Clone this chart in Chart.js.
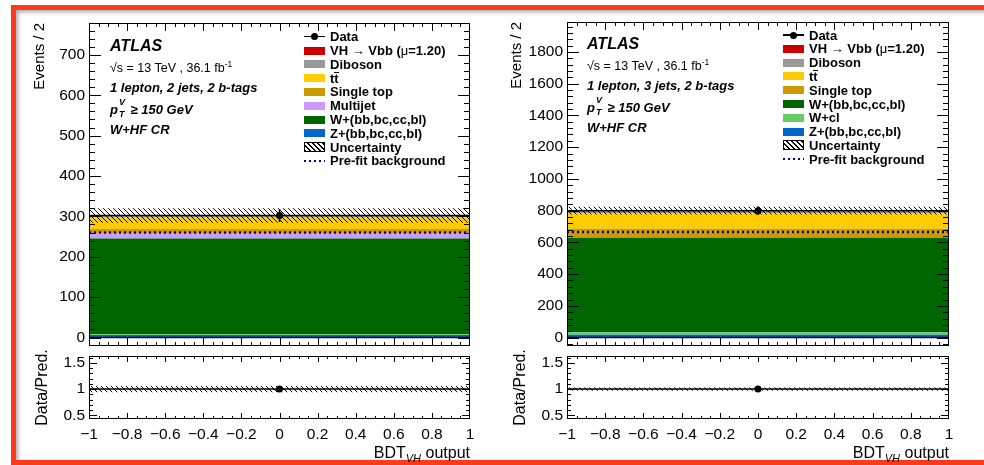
<!DOCTYPE html>
<html>
<head>
<meta charset="utf-8">
<script src="https://cdn.jsdelivr.net/npm/chart.js@4.4.1/dist/chart.umd.min.js"></script>
<style>
html,body{margin:0;padding:0;background:#fff;}
body{width:984px;height:465px;position:relative;overflow:hidden;font-family:'Liberation Sans',Arial,Helvetica,sans-serif;color:#000;}
#frame{position:absolute;left:11px;top:5px;width:1000px;height:450px;border:5px solid #f93a1c;box-shadow:inset 2px 2px 4px rgba(0,0,0,0.35);}
canvas{position:absolute;}
.txt{position:absolute;white-space:nowrap;line-height:1;}
.atl{font-size:16px;font-weight:bold;font-style:italic;}
.sq{font-size:12.5px;}
.sup1{font-size:8.5px;position:relative;top:-5px;}
.bi{font-size:13px;font-weight:bold;font-style:italic;}
.ss{display:inline-block;position:relative;width:9px;height:13px;vertical-align:top;}
.ss .sp{position:absolute;left:1px;top:-5px;font-size:9px;}
.ss .sb{position:absolute;left:1px;top:7px;font-size:9px;}
.leg{position:absolute;white-space:nowrap;font-size:13px;font-weight:bold;line-height:13px;}
.nb{font-weight:normal;}
.ol{position:relative;display:inline-block;}
.ol i{position:absolute;left:0;right:0;top:0;border-top:1.3px solid #000;}
.xt{font-size:16px;}
.xt sub{font-size:11px;font-style:italic;vertical-align:baseline;position:relative;top:4px;}
</style>
</head>
<body>
<div id="frame"></div>
<canvas id="lmain" width="492" height="350" style="left:0;top:0"></canvas>
<canvas id="lratio" width="492" height="115" style="left:0;top:350px"></canvas>
<canvas id="rmain" width="492" height="350" style="left:492px;top:0"></canvas>
<canvas id="rratio" width="492" height="115" style="left:492px;top:350px"></canvas>
<div id="overlay"></div>
<script>
// ---------------- DATA ----------------
const binEdges = [-1, 1];
const xTickValues = [-1, -0.8, -0.6, -0.4, -0.2, 0, 0.2, 0.4, 0.6, 0.8, 1];
const ratioTickValues = [0.5, 1, 1.5];
const leftYTickValues = [0, 100, 200, 300, 400, 500, 600, 700];
const rightYTickValues = [0, 200, 400, 600, 800, 1000, 1200, 1400, 1600, 1800];

// Left: 1 lepton, 2 jets, 2 b-tags (stack order bottom -> top)
const left_ZHF = [6];
const left_Wcl = [2];
const left_WHF = [237];
const left_Multijet = [14];
const left_SingleTop = [10];
const left_ttbar = [28];
const left_Diboson = [4];
const left_VH = [1];
const left_Data = [302];
const left_DataErr = [16];
const left_Unc = [18];
const left_Prefit = [260];

// Right: 1 lepton, 3 jets, 2 b-tags
const right_ZHF = [18];
const right_Wcl = [15];
const right_WHF = [597];
const right_SingleTop = [56];
const right_ttbar = [97];
const right_Diboson = [14];
const right_VH = [3];
const right_Data = [800];
const right_DataErr = [27];
const right_Unc = [25];
const right_Prefit = [665];

// ---------------- STYLE ----------------
const FONT = "'Liberation Sans', Arial, Helvetica, sans-serif";
const COLORS = {VH:'#cc0000', Diboson:'#999999', ttbar:'#ffcc00', SingleTop:'#cc9900',
  Multijet:'#cc99ff', WHF:'#006600', Wcl:'#66cc66', ZHF:'#0066cc'};
Chart.defaults.font.family = FONT;
Chart.defaults.color = '#000';

function makeHatch(){
  const c = document.createElement('canvas'); c.width = 5; c.height = 5;
  const g = c.getContext('2d');
  g.strokeStyle = '#000'; g.lineWidth = 1;
  g.beginPath(); g.moveTo(-1,-1); g.lineTo(6,6);
  g.moveTo(-1,4); g.lineTo(1,6);
  g.moveTo(4,-1); g.lineTo(6,1); g.stroke();
  return g.createPattern(c, 'repeat');
}
const hatch = makeHatch();

const centers = binEdges.slice(0,-1).map((e,b)=>(e+binEdges[b+1])/2);
const halfW = binEdges.slice(0,-1).map((e,b)=>(binEdges[b+1]-e)/2);
function stepPoints(vals){
  const pts = [];
  vals.forEach((v,b)=>{ pts.push({x:binEdges[b], y:v}); pts.push({x:binEdges[b+1], y:v}); });
  return pts;
}
function fmtX(v){ const r = Math.round(v*10)/10; return r < 0 ? '\u2212' + String(-r) : String(r); }

// ---------------- PLUGIN: ROOT style frame, ticks, error bars ----------------
function drawTicks(ctx, scale, cfg, area, horizontal){
  const {majors, div, major, minor} = cfg;
  const step = (majors[1]-majors[0])/div;
  const k0 = Math.ceil((scale.min - majors[0])/step - 1e-6);
  const k1 = Math.floor((scale.max - majors[0])/step + 1e-6);
  ctx.beginPath();
  for (let k=k0; k<=k1; k++){
    const v = majors[0] + k*step;
    const len = (((k%div)+div)%div===0) ? major : minor;
    const p = scale.getPixelForValue(v);
    if (horizontal){
      if (p <= area.left+1 || p >= area.right-1) continue;
      const x = Math.round(p)+0.5;
      ctx.moveTo(x, area.bottom); ctx.lineTo(x, area.bottom-len);
      ctx.moveTo(x, area.top); ctx.lineTo(x, area.top+len);
    } else {
      if (p <= area.top+1 || p >= area.bottom-1) continue;
      const y = Math.round(p)+0.5;
      ctx.moveTo(area.left, y); ctx.lineTo(area.left+len, y);
      ctx.moveTo(area.right, y); ctx.lineTo(area.right-len, y);
    }
  }
  ctx.stroke();
}
Chart.register({
  id:'rootFrame',
  afterDatasetsDraw(chart, args, opts){
    const {ctx, chartArea:a, scales} = chart;
    ctx.save();
    ctx.strokeStyle = '#000';
    ctx.lineWidth = 1.5;
    chart.data.datasets.forEach((ds,i)=>{
      if (!ds.errY) return;
      ds.data.forEach((d,j)=>{
        const px = scales.x.getPixelForValue(d.x), py = scales.y.getPixelForValue(d.y);
        ctx.beginPath();
        ctx.moveTo(px, scales.y.getPixelForValue(d.y - ds.errY[j]));
        ctx.lineTo(px, scales.y.getPixelForValue(d.y + ds.errY[j]));
        ctx.moveTo(scales.x.getPixelForValue(d.x - ds.errX[j]), py);
        ctx.lineTo(scales.x.getPixelForValue(d.x + ds.errX[j]), py);
        ctx.stroke();
      });
    });
    if (opts.zeroLine){
      const y0 = scales.y.getPixelForValue(0);
      ctx.lineWidth = 1.5;
      ctx.beginPath(); ctx.moveTo(a.left, y0); ctx.lineTo(a.right, y0); ctx.stroke();
    }
    ctx.lineWidth = 1;
    ctx.strokeRect(Math.round(a.left)+0.5, Math.round(a.top)+0.5, Math.round(a.width)-1, Math.round(a.height)-1);
    drawTicks(ctx, scales.x, opts.x, a, true);
    drawTicks(ctx, scales.y, opts.y, a, false);
    ctx.restore();
  }
});

function baseY(min, max, ticks, width, title, titleSize, titlePad, fmt){
  return {
    type:'linear', min, max,
    afterBuildTicks: s => { s.ticks = ticks.map(v=>({value:v})); },
    afterFit: s => { s.width = width; s.paddingTop = 0; s.paddingBottom = 0; },
    ticks:{font:{size:15.5}, color:'#000', padding:4, callback: fmt},
    grid:{display:false, drawTicks:false}, border:{display:false},
    title:{display:true, text:title, align: title === 'Events / 2' ? 'end' : 'center',
      font:{size:titleSize}, color:'#000', padding:{top:titlePad, bottom:0}}
  };
}

function buildMain(id, p){
  const datasets = [];
  let cum = centers.map(()=>0);
  p.layers.forEach(([key, vals], i)=>{
    cum = cum.map((c,b)=>c+vals[b]);
    datasets.push({label:key, data:stepPoints(cum), backgroundColor:COLORS[key],
      borderColor:'rgba(0,0,0,0)', borderWidth:1, pointRadius:0, fill: i===0 ? 'origin' : '-1', order:10});
  });
  const total = cum;
  const lowIdx = datasets.length;
  datasets.push({label:'uncLow', data:stepPoints(total.map((t,b)=>t-p.unc[b])), borderColor:'rgba(0,0,0,0)',
    borderWidth:1, pointRadius:0, fill:false, order:6});
  datasets.push({label:'uncHigh', data:stepPoints(total.map((t,b)=>t+p.unc[b])), borderColor:'rgba(0,0,0,0)',
    borderWidth:1, pointRadius:0, fill:{target:lowIdx}, backgroundColor:hatch, order:5});
  datasets.push({label:'prefit', data:stepPoints(p.prefit), borderColor:'#000099', borderWidth:2.5,
    borderDash:[2,3], pointRadius:0, fill:false, order:3});
  datasets.push({label:'data', data:centers.map((c,b)=>({x:c, y:p.data[b]})), showLine:false,
    pointRadius:3.5, pointBackgroundColor:'#000', pointBorderColor:'#000', pointBorderWidth:0,
    order:1, errY:p.dataErr, errX:halfW});
  new Chart(document.getElementById(id), {
    type:'line', data:{datasets},
    options:{
      responsive:false, animation:false, devicePixelRatio:1, events:[],
      layout:{padding:{top:p.top, right:p.right, bottom:4, left:0}},
      plugins:{legend:{display:false}, tooltip:{enabled:false},
        rootFrame:{zeroLine:true, x:{majors:xTickValues, div:4, major:8, minor:4}, y:{majors:p.yTicks, div:5, major:12, minor:6}}},
      scales:{
        x:{type:'linear', min:-1, max:1, display:false},
        y: baseY(p.yMin, p.yMax, p.yTicks, p.yWidth, 'Events / 2', 15, p.titlePad, v=>String(v))
      }
    }
  });
  return total;
}

function buildRatio(id, p, total){
  const ratio = p.data.map((d,b)=>d/total[b]);
  const ratioErr = p.dataErr.map((e,b)=>e/total[b]);
  const rUnc = p.unc.map((u,b)=>u/total[b]);
  const datasets = [
    {label:'uncLow', data:stepPoints(rUnc.map(u=>1-u)), borderColor:'rgba(0,0,0,0)', borderWidth:1, pointRadius:0, fill:false, order:6},
    {label:'uncHigh', data:stepPoints(rUnc.map(u=>1+u)), borderColor:'rgba(0,0,0,0)', borderWidth:1, pointRadius:0, fill:{target:0}, backgroundColor:hatch, order:5},
    {label:'data', data:centers.map((c,b)=>({x:c, y:ratio[b]})), showLine:false, pointRadius:3.5,
      pointBackgroundColor:'#000', pointBorderColor:'#000', pointBorderWidth:0, order:1, errY:ratioErr, errX:halfW}
  ];
  new Chart(document.getElementById(id), {
    type:'line', data:{datasets},
    options:{
      responsive:false, animation:false, devicePixelRatio:1, events:[],
      layout:{padding:{top:6, right:p.right, bottom:0, left:0}},
      plugins:{legend:{display:false}, tooltip:{enabled:false},
        rootFrame:{x:{majors:xTickValues, div:4, major:6, minor:3}, y:{majors:ratioTickValues, div:5, major:8, minor:4}}},
      scales:{
        x:{type:'linear', min:-1, max:1,
          afterBuildTicks: s => { s.ticks = xTickValues.map(v=>({value:v})); },
          afterFit: s => { s.height = 46; s.paddingLeft = 0; s.paddingRight = 0; },
          ticks:{autoSkip:false, maxRotation:0, minRotation:0, font:{size:15.5}, color:'#000', padding:6, callback:fmtX},
          grid:{display:false, drawTicks:false}, border:{display:false}},
        y: baseY(0.43, 1.63, ratioTickValues, p.yWidth, 'Data/Pred.', 16, p.ratioTitlePad, v=>String(v))
      }
    }
  });
}

const leftPanel = {
  layers:[['ZHF',left_ZHF],['Wcl',left_Wcl],['WHF',left_WHF],['Multijet',left_Multijet],
          ['SingleTop',left_SingleTop],['ttbar',left_ttbar],['Diboson',left_Diboson],['VH',left_VH]],
  data:left_Data, dataErr:left_DataErr, unc:left_Unc, prefit:left_Prefit,
  yTicks:leftYTickValues, yMin:-21, yMax:779, top:23, right:22, yWidth:89, titlePad:30.5, ratioTitlePad:33.4
};
const rightPanel = {
  layers:[['ZHF',right_ZHF],['Wcl',right_Wcl],['WHF',right_WHF],
          ['SingleTop',right_SingleTop],['ttbar',right_ttbar],['Diboson',right_Diboson],['VH',right_VH]],
  data:right_Data, dataErr:right_DataErr, unc:right_Unc, prefit:right_Prefit,
  yTicks:rightYTickValues, yMin:-53, yMax:1989, top:22, right:35, yWidth:75, titlePad:16, ratioTitlePad:19.4
};
const lTot = buildMain('lmain', leftPanel);
buildRatio('lratio', leftPanel, lTot);
const rTot = buildMain('rmain', rightPanel);
buildRatio('rratio', rightPanel, rTot);

// ---------------- TEXT OVERLAYS ----------------
function atlasBlock(x, ys, lepton){
  return `<div class="txt atl" style="left:${x}px;top:${ys[0]-8}px">ATLAS</div>
  <div class="txt sq" style="left:${x}px;top:${ys[1]-6}px">\u221As = 13 TeV , 36.1 fb<span class="sup1">-1</span></div>
  <div class="txt bi" style="left:${x}px;top:${ys[2]-6.5}px">${lepton}</div>
  <div class="txt bi" style="left:${x}px;top:${ys[3]-6.5}px">p<span class="ss"><span class="sp">V</span><span class="sb">T</span></span> \u2265 150 GeV</div>
  <div class="txt bi" style="left:${x}px;top:${ys[4]-6.5}px">W+HF CR</div>`;
}
const TTBAR = 't<span class="ol">t<i></i></span>';
const legendLeft = [
  {kind:'data', text:'Data'},
  {kind:'box', key:'VH', text:'VH \u2192 Vbb (<span class="nb">\u03bc</span>=1.20)'},
  {kind:'box', key:'Diboson', text:'Diboson'},
  {kind:'box', key:'ttbar', text:TTBAR},
  {kind:'box', key:'SingleTop', text:'Single top'},
  {kind:'box', key:'Multijet', text:'Multijet'},
  {kind:'box', key:'WHF', text:'W+(bb,bc,cc,bl)'},
  {kind:'box', key:'ZHF', text:'Z+(bb,bc,cc,bl)'},
  {kind:'hatch', text:'Uncertainty'},
  {kind:'dot', text:'Pre-fit background'}
];
const legendRight = [
  {kind:'data', text:'Data'},
  {kind:'box', key:'VH', text:'VH \u2192 Vbb (<span class="nb">\u03bc</span>=1.20)'},
  {kind:'box', key:'Diboson', text:'Diboson'},
  {kind:'box', key:'ttbar', text:TTBAR},
  {kind:'box', key:'SingleTop', text:'Single top'},
  {kind:'box', key:'WHF', text:'W+(bb,bc,cc,bl)'},
  {kind:'box', key:'Wcl', text:'W+cl'},
  {kind:'box', key:'ZHF', text:'Z+(bb,bc,cc,bl)'},
  {kind:'hatch', text:'Uncertainty'},
  {kind:'dot', text:'Pre-fit background'}
];
function legendBlock(items, symX, textX, y0, dy){
  let h = '';
  items.forEach((it,i)=>{
    const c = y0 + i*dy;
    if (it.kind==='data'){
      h += `<div style="position:absolute;left:${symX}px;top:${c-0.75}px;width:21px;height:1.5px;background:#000"></div>`;
      h += `<div style="position:absolute;left:${symX+7}px;top:${c-3.5}px;width:7px;height:7px;border-radius:50%;background:#000"></div>`;
    } else if (it.kind==='box'){
      h += `<div style="position:absolute;left:${symX}px;top:${c-4}px;width:21px;height:8px;background:${COLORS[it.key]}"></div>`;
    } else if (it.kind==='hatch'){
      h += `<div style="position:absolute;left:${symX}px;top:${c-5}px;width:19px;height:8px;border:1px solid #000;background:repeating-linear-gradient(45deg,#000 0 1px,#fff 1px 3.5px)"></div>`;
    } else {
      h += `<div style="position:absolute;left:${symX}px;top:${c-1.25}px;width:21px;height:2.5px;background:repeating-linear-gradient(90deg,#000099 0 2px,transparent 2px 5px)"></div>`;
    }
    h += `<div class="leg" style="left:${textX}px;top:${c-6.5}px">${it.text}</div>`;
  });
  return h;
}
let ov = '';
ov += atlasBlock(110, [46, 68, 87, 109, 129], '1 lepton, 2 jets, 2 b-tags');
ov += atlasBlock(587, [43.5, 66, 85, 107, 127.5], '1 lepton, 3 jets, 2 b-tags');
ov += legendBlock(legendLeft, 304, 330, 36.7, 13.8);
ov += legendBlock(legendRight, 783, 809, 35, 13.8);
ov += `<div class="txt xt" style="right:${984-470}px;top:445px">BDT<sub>VH</sub> output</div>`;
ov += `<div class="txt xt" style="right:${984-949}px;top:445px">BDT<sub>VH</sub> output</div>`;
document.getElementById('overlay').innerHTML = ov;
</script>
</body>
</html>
